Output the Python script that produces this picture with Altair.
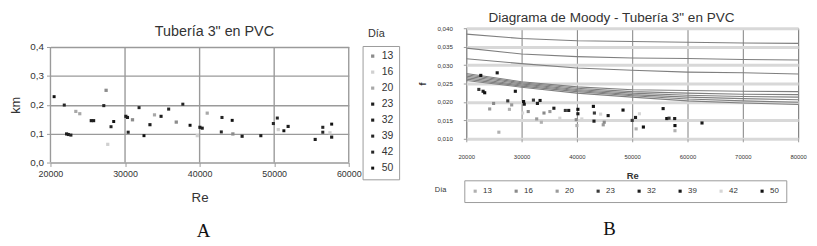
import altair as alt
import pandas as pd

# ---------------- data ----------------
dias = ["13", "16", "20", "23", "32", "39", "42", "50"]

# Panel A: km vs Re
a_re = [23400, 23930, 27460, 27680, 31000, 33950, 36870, 39690, 41020, 44460, 50550, 57480,
        20490, 21850, 22160, 22400, 22740, 25470, 25790, 27150, 28120, 28480,
        30110, 30330, 30420, 31880, 32540, 33340, 34830, 35850, 37750, 38720,
        40040, 40350, 43000, 42910, 44370, 45700, 48210, 49890, 50420, 51300,
        51870, 55500, 56520, 56520, 57710, 57710]
a_km = [0.177, 0.169, 0.250, 0.063, 0.148, 0.165, 0.140, 0.093, 0.171, 0.099, 0.114, 0.103,
        0.228, 0.199, 0.099, 0.097, 0.095, 0.145, 0.145, 0.197, 0.124, 0.142,
        0.160, 0.156, 0.105, 0.190, 0.093, 0.131, 0.160, 0.185, 0.202, 0.129,
        0.122, 0.119, 0.156, 0.106, 0.146, 0.091, 0.093, 0.135, 0.154, 0.110,
        0.125, 0.080, 0.122, 0.105, 0.133, 0.088]
a_dia = ["20", "20", "13", "16", "13", "20", "13", "16", "20", "13", "16", "16",
         "50", "42", "23", "32", "39", "23", "32", "39", "42", "50",
         "23", "32", "39", "42", "50", "23", "32", "39", "42", "50",
         "23", "32", "39", "42", "50", "23", "32", "39", "42", "50",
         "23", "32", "39", "42", "50", "23"]

# Panel B: f vs Re
b_re = [22620, 25590, 22270, 23040, 23330, 28870, 24940, 24230, 25890, 27500, 28210, 27800,
        30360, 30480, 31200, 30180, 32140, 32860, 33340, 32730, 33570, 34050, 35120, 35840,
        36910, 37910, 38520, 40180, 40180, 39880, 40000, 40890, 42980, 43160, 43090, 44290,
        44760, 44940, 45650, 48340, 50000, 50600, 51300, 50710, 52020, 55590, 56250, 56660,
        57680, 57730, 57730, 62620]
b_f = [0.0272, 0.0279, 0.0234, 0.0229, 0.0225, 0.0229, 0.0196, 0.0181, 0.0118, 0.0203, 0.0192, 0.0180,
       0.0201, 0.0194, 0.0174, 0.0170, 0.0205, 0.0196, 0.0204, 0.0154, 0.0145, 0.0170, 0.0174, 0.0183,
       0.0156, 0.0177, 0.0177, 0.0180, 0.0168, 0.0152, 0.0136, 0.0154, 0.0188, 0.0170, 0.0148, 0.0167,
       0.0138, 0.0145, 0.0163, 0.0178, 0.0150, 0.0158, 0.0168, 0.0127, 0.0132, 0.0182, 0.0155, 0.0156,
       0.0155, 0.0136, 0.0122, 0.0143]
b_dia = ["50", "39", "23", "32", "50", "39", "16", "20", "13", "23", "20", "13",
         "50", "39", "16", "42", "23", "32", "39", "20", "13", "16", "20", "32",
         "42", "23", "32", "50", "39", "16", "13", "42", "50", "23", "32", "42",
         "20", "16", "39", "50", "23", "32", "42", "13", "50", "39", "50", "23",
         "32", "50", "13", "39"]

# Moody curves read at these Re values
moody_re = [20000, 30000, 40000, 50000, 60000, 70000, 80000]
moody_c1 = [0.0384, 0.0372, 0.0366, 0.0364, 0.0362, 0.0360, 0.0359]
moody_c2 = [0.0346, 0.0330, 0.0323, 0.0319, 0.0318, 0.0315, 0.0314]
moody_c3 = [0.0317, 0.0304, 0.0292, 0.0286, 0.0281, 0.0279, 0.0276]
moody_c4 = [0.0277, 0.0255, 0.0241, 0.0233, 0.0231, 0.0229, 0.0228]
moody_c5 = [0.0274, 0.0252, 0.0237, 0.0228, 0.0224, 0.0221, 0.0220]
moody_c6 = [0.0270, 0.0249, 0.0234, 0.0224, 0.0218, 0.0215, 0.0213]
moody_c7 = [0.0266, 0.0246, 0.0231, 0.0220, 0.0213, 0.0209, 0.0206]
moody_c8 = [0.0262, 0.0243, 0.0228, 0.0217, 0.0208, 0.0203, 0.0199]
moody_c9 = [0.0258, 0.0240, 0.0224, 0.0213, 0.0203, 0.0197, 0.0193]

a_ticks = [20000, 30000, 40000, 50000, 60000]
a_yticks = [0.0, 0.1, 0.2, 0.3, 0.4]
b_ticks = [20000, 30000, 40000, 50000, 60000, 70000, 80000]
b_yticks = [0.010, 0.015, 0.020, 0.025, 0.030, 0.035, 0.040]

# ---------------- frames ----------------
a_df = pd.DataFrame({"Re": a_re, "km": a_km, "Dia": a_dia})
a_grid = pd.DataFrame({"Re": a_ticks, "lo": [a_yticks[0]] * len(a_ticks),
                       "hi": [a_yticks[-1]] * len(a_ticks)})
b_df = pd.DataFrame({"Re": b_re, "f": b_f, "Dia": b_dia})
curves = [moody_c1, moody_c2, moody_c3, moody_c4, moody_c5, moody_c6, moody_c7, moody_c8, moody_c9]
m_rows = []
for ci, cv in enumerate(curves):
    for r, v in zip(moody_re, cv):
        m_rows.append({"Re": r, "f": v, "curve": f"c{ci+1}"})
m_df = pd.DataFrame(m_rows)
one = pd.DataFrame({"k": [0]})

FONT = "Liberation Sans"
TXT = "#333333"
GRID = "#9a9a9a"

# ---------------- panel A ----------------
# panel A's plot sits 19px lower than panel B's inside its (taller) view
WA, HA, TOPA = 302, 136, 19
a_colors = ["#8c8c8c", "#d0d0d0", "#a8a8a8", "#1e1e1e", "#1e1e1e", "#262626", "#262626", "#111111"]
a_sizes = [11, 9, 11, 28, 28, 28, 28, 30]

axAx = alt.Axis(values=a_ticks, format="d", title="Re", grid=False,
                domain=False, tickColor=GRID, tickSize=4, labelFlush=False,
                labelFontSize=9, labelColor=TXT, labelFont=FONT, labelPadding=3.5,
                titleFontSize=13.5, titleFontWeight="normal", titleColor=TXT,
                titleFont=FONT, titlePadding=12)
axAy = alt.Axis(values=a_yticks, labelFlush=False, labelOverlap=False,
                labelExpr="replace(format(datum.value, '.1f'), '.', ',')",
                title="km", grid=True, gridColor=GRID, gridWidth=1.4, domain=False,
                tickColor=GRID, tickSize=4, labelFontSize=10, labelColor=TXT,
                labelFont=FONT, labelPadding=3, titleFontSize=13,
                titleFontWeight="normal", titleColor=TXT, titleFont=FONT,
                titlePadding=7)
scAx = alt.Scale(domain=[20000, 60000], nice=False, zero=False)
scAy = alt.Scale(domain=[0, 0.4], nice=False, range=[HA, TOPA])

gridA = alt.Chart(a_grid).mark_rule(color=GRID, strokeWidth=1.4).encode(
    x=alt.X("Re:Q", scale=scAx, axis=axAx),
    y=alt.Y("lo:Q", scale=scAy, axis=axAy),
    y2="hi:Q")
ptsA = alt.Chart(a_df).mark_point(shape="square", filled=True, opacity=1).encode(
    x=alt.X("Re:Q", scale=scAx, axis=axAx),
    y=alt.Y("km:Q", scale=scAy, axis=axAy),
    color=alt.Color("Dia:N", scale=alt.Scale(domain=dias, range=a_colors),
                    legend=alt.Legend(title=None, orient="none", legendX=316, legendY=TOPA - 1,
                                      strokeColor=GRID, padding=5, symbolType="square",
                                      symbolSize=12, labelFontSize=10.5, labelColor=TXT,
                                      labelFont=FONT, rowPadding=5.2, labelOffset=4)),
    size=alt.Size("Dia:N", scale=alt.Scale(domain=dias, range=a_sizes), legend=None),
)
titleA = alt.Chart(one).mark_text(text='Tubería 3" en PVC', fontSize=14.5, color=TXT, font=FONT).encode(
    x=alt.value(166), y=alt.value(4))
diaA = alt.Chart(one).mark_text(text="Día", fontSize=11, color=TXT, font=FONT).encode(
    x=alt.value(330), y=alt.value(6))
labA = alt.Chart(one).mark_text(text="A", fontSize=19, color="#111", font="Liberation Serif").encode(
    x=alt.value(155), y=alt.value(205))

panelA = alt.layer(gridA, ptsA, titleA, diaA, labA).properties(
    width=WA, height=HA, view=alt.ViewBackground(stroke="transparent"))

# ---------------- panel B ----------------
WB, HB = 336, 112
b_colors = ["#b0b0b0", "#8a8a8a", "#9a9a9a", "#3a3a3a", "#1e1e1e", "#1a1a1a", "#d6d6d6", "#111111"]
b_sizes = [10, 10, 11, 24, 24, 26, 9, 28]

axBx = alt.Axis(values=b_ticks, format="d", title="Re", grid=True, gridColor="#808080",
                gridWidth=1, domain=False, tickColor=GRID, tickSize=3, labelFlush=False,
                labelFontSize=6, labelColor=TXT, labelFont=FONT, labelPadding=12,
                titleFontSize=9.5, titleFontWeight="bold", titleColor=TXT,
                titleFont=FONT, titlePadding=11)
axBy = alt.Axis(values=b_yticks, labelFlush=False, labelOverlap=False,
                labelExpr="replace(format(datum.value, '.3f'), '.', ',')",
                title="f", grid=True, gridColor="#d8d8d8", gridWidth=3, domain=False,
                tickColor=GRID, tickSize=3, labelFontSize=6.3, labelColor=TXT,
                labelFont=FONT, labelPadding=11, titleFontSize=10,
                titleFontWeight="bold", titleColor=TXT, titleFont=FONT,
                titlePadding=10)
scBx = alt.Scale(domain=[20000, 80000], nice=False, zero=False)
scBy = alt.Scale(domain=[0.010, 0.040], nice=False, zero=False)

linesB = alt.Chart(m_df).mark_line(color="#7f7f7f", strokeWidth=1.1, clip=True).encode(
    x=alt.X("Re:Q", scale=scBx, axis=axBx),
    y=alt.Y("f:Q", scale=scBy, axis=axBy),
    detail="curve:N")
ptsB = alt.Chart(b_df).mark_point(shape="square", filled=True, opacity=1).encode(
    x=alt.X("Re:Q", scale=scBx, axis=axBx),
    y=alt.Y("f:Q", scale=scBy, axis=axBy),
    color=alt.Color("Dia:N", scale=alt.Scale(domain=dias, range=b_colors),
                    legend=alt.Legend(title=None, orient="none", legendX=-2, legendY=154,
                                      direction="horizontal", columns=8, strokeColor=GRID,
                                      padding=7, symbolType="square", symbolSize=10,
                                      labelFontSize=8, labelColor=TXT, labelFont=FONT,
                                      columnPadding=20.5, labelOffset=4)),
    size=alt.Size("Dia:N", scale=alt.Scale(domain=dias, range=b_sizes), legend=None),
)
diaB = alt.Chart(one).mark_text(text="Día", fontSize=7.5, color=TXT, font=FONT).encode(
    x=alt.value(-26), y=alt.value(164))
labB = alt.Chart(one).mark_text(text="B", fontSize=19, color="#111", font="Liberation Serif").encode(
    x=alt.value(145), y=alt.value(203))

panelB = alt.layer(linesB, ptsB, diaB, labB).properties(
    width=WB, height=HB,
    view=alt.ViewBackground(stroke=GRID, strokeWidth=1),
    title=alt.TitleParams('Diagrama de Moody - Tubería 3" en PVC', fontSize=13.7,
                          fontWeight="normal", color=TXT, font=FONT, offset=1, dx=-21),
)

chart = alt.hconcat(panelA, panelB, spacing=16).resolve_scale(
    color="independent", size="independent"
).properties(
    padding={"left": 1, "top": 0, "right": 2, "bottom": 0},
    background="white",
)

chart.save("out.html", embed_options={"renderer": "svg", "actions": False})
